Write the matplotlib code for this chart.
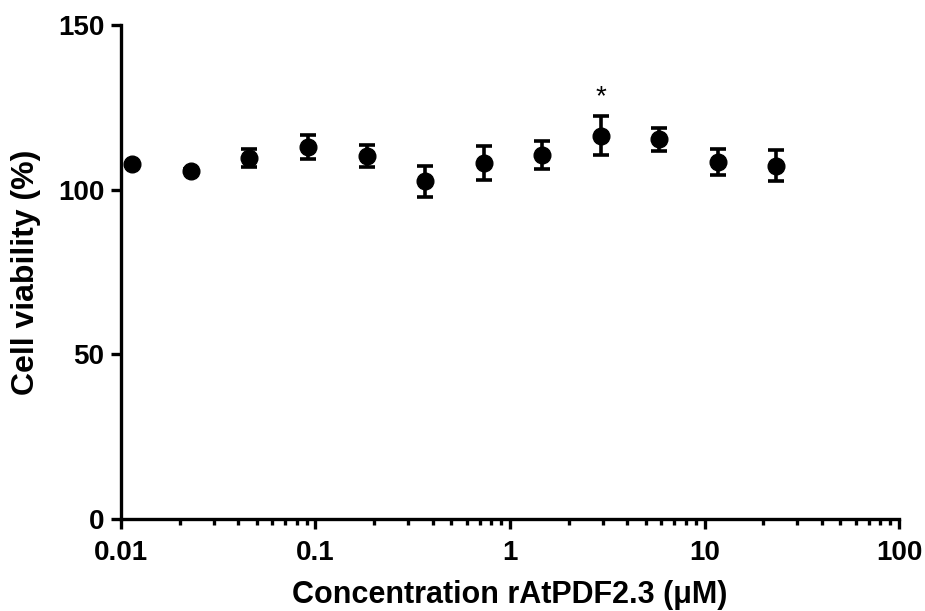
import matplotlib.pyplot as plt
from matplotlib.ticker import LogLocator, NullFormatter, FixedLocator

plt.rcParams['font.family'] = ['Liberation Sans', 'DejaVu Sans']
plt.rcParams['font.weight'] = 'bold'

# Concentration (uM) vs cell viability (%)
conc = [0.0114, 0.0229, 0.0457, 0.0914, 0.183, 0.366, 0.731, 1.46, 2.93, 5.85, 11.7, 23.4]
viability = [107.7, 105.8, 109.6, 112.9, 110.2, 102.5, 108.1, 110.6, 116.4, 115.3, 108.4, 107.3]
sem = [0.5, 0.4, 2.8, 3.7, 3.3, 4.65, 5.2, 4.25, 6.0, 3.5, 4.0, 4.75]
star_x = 2.93
star_y = 128

fig = plt.figure(figsize=(9.25, 6.11), dpi=100)
ax = fig.add_axes([0.1308, 0.1506, 0.8411, 0.8085])

ax.errorbar(conc, viability, yerr=sem, fmt='o', color='black', markersize=12,
            elinewidth=2.6, capsize=5.5, capthick=2.6)
ax.text(star_x, star_y, '*', ha='center', va='center', fontsize=20, fontweight='normal')

ax.set_xscale('log')
ax.set_xlim(0.01, 100)
ax.set_ylim(0, 150)
ax.set_yticks([0, 50, 100, 150])
ax.xaxis.set_major_locator(FixedLocator([0.01, 0.1, 1, 10, 100]))
ax.set_xticklabels(['0.01', '0.1', '1', '10', '100'])
ax.xaxis.set_minor_locator(LogLocator(base=10, subs=range(2, 10), numticks=20))
ax.xaxis.set_minor_formatter(NullFormatter())

for s in ['top', 'right']:
    ax.spines[s].set_visible(False)
for s in ['left', 'bottom']:
    ax.spines[s].set_linewidth(2.4)

ax.tick_params(which='major', length=7, width=2.4, labelsize=20)
ax.tick_params(which='minor', length=4, width=2.4)
ax.tick_params(axis='x', which='major', pad=8)
ax.tick_params(axis='y', which='major', pad=5)

ax.set_xlabel('Concentration rAtPDF2.3 (μM)', fontsize=22, fontweight='bold', labelpad=10)
ax.set_ylabel('Cell viability (%)', fontsize=23, fontweight='bold', labelpad=12)

fig.savefig('out.png', dpi=100)
